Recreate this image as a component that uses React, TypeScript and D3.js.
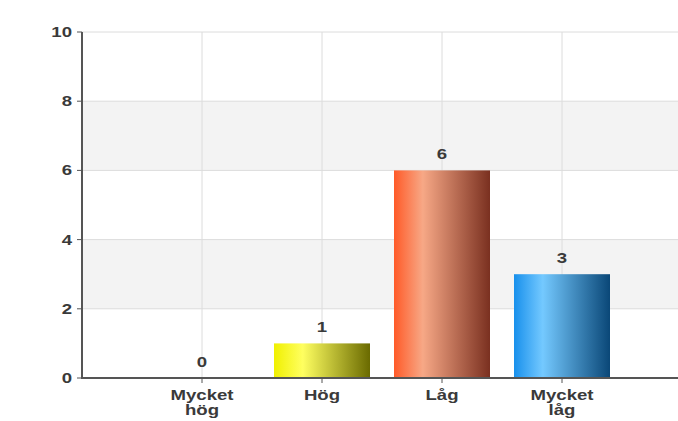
import React from "react";
import * as d3 from "d3";

const categories = ["Mycket hög", "Hög", "Låg", "Mycket låg"];
const labelLines = [["Mycket", "hög"], ["Hög"], ["Låg"], ["Mycket", "låg"]];
const values = [0, 1, 6, 3];
const yTicks = [0, 2, 4, 6, 8, 10];
const gradients = [
  ["#f0f000", "#ffff70", "#6a6a00"],
  ["#f0f000", "#ffff60", "#6a6a00"],
  ["#ff5a28", "#f7a886", "#7a3020"],
  ["#1890ec", "#74c9ff", "#0a4777"],
];

const SX = 1.33;

function T({ x, y, children, anchor = "middle", size = 14 }: any) {
  return (
    <text
      transform={`translate(${x},${y}) scale(${SX},1)`}
      textAnchor={anchor}
      fontFamily="Liberation Sans, Arial, sans-serif"
      fontSize={size}
      fontWeight="bold"
      fill="#3a3a3a"
    >
      {children}
    </text>
  );
}

export default function App() {
  const W = 678, H = 421;
  const x0 = 82, yTop = 32, yBot = 378, xRight = 678;
  const y = d3.scaleLinear().domain([0, 10]).range([yBot, yTop]);
  const x = d3.scaleBand<string>().domain(categories).range([142, 622]).paddingInner(0.2).paddingOuter(0.1);
  const cx = (c: string) => x(c)! + x.bandwidth() / 2;
  return (
    <svg width={W} height={H} style={{ position: "absolute", left: 0, top: 0, background: "#fff" }}>
      <defs>
        {gradients.map((g, i) => (
          <linearGradient key={i} id={`g${i}`} x1="0" x2="1" y1="0" y2="0">
            <stop offset="0" stopColor={g[0]} />
            <stop offset="0.3" stopColor={g[1]} />
            <stop offset="1" stopColor={g[2]} />
          </linearGradient>
        ))}
      </defs>
      {yTicks.slice(0, -1).map((t, i) =>
        i % 2 === 1 ? (
          <rect key={"b" + t} x={x0} y={y(t + 2)} width={xRight - x0} height={y(t) - y(t + 2)} fill="#f3f3f3" />
        ) : null
      )}
      {yTicks.map((t) => (
        <line key={"h" + t} x1={x0} x2={xRight} y1={y(t)} y2={y(t)} stroke="#dcdcdc" strokeWidth={1} />
      ))}
      {categories.map((c) => (
        <line key={"v" + c} x1={cx(c)} x2={cx(c)} y1={yTop} y2={yBot} stroke="#dcdcdc" strokeWidth={1} />
      ))}
      {categories.map((c, i) => (
        <rect key={"r" + c} x={x(c)} y={y(values[i])} width={x.bandwidth()} height={yBot - y(values[i])} fill={`url(#g${i})`} />
      ))}
      {categories.map((c, i) => (
        <T key={"l" + c} x={cx(c)} y={y(values[i]) - 11}>
          {values[i]}
        </T>
      ))}
      <line x1={x0} x2={x0} y1={yTop} y2={yBot + 1} stroke="#555" strokeWidth={2} />
      <line x1={x0} x2={xRight} y1={yBot} y2={yBot} stroke="#555" strokeWidth={2} />
      {yTicks.map((t) => (
        <g key={"t" + t}>
          <line x1={x0 - 5} x2={x0} y1={y(t)} y2={y(t)} stroke="#555" strokeWidth={1} />
          <T x={x0 - 10} y={y(t) + 5} anchor="end">
            {t}
          </T>
        </g>
      ))}
      {categories.map((c, i) => (
        <g key={"x" + c}>
          <line x1={cx(c)} x2={cx(c)} y1={yBot} y2={yBot + 5} stroke="#555" />
          {labelLines[i].map((ln, j) => (
            <T key={j} x={cx(c)} y={yBot + 22 + j * 15}>
              {ln}
            </T>
          ))}
        </g>
      ))}
    </svg>
  );
}
